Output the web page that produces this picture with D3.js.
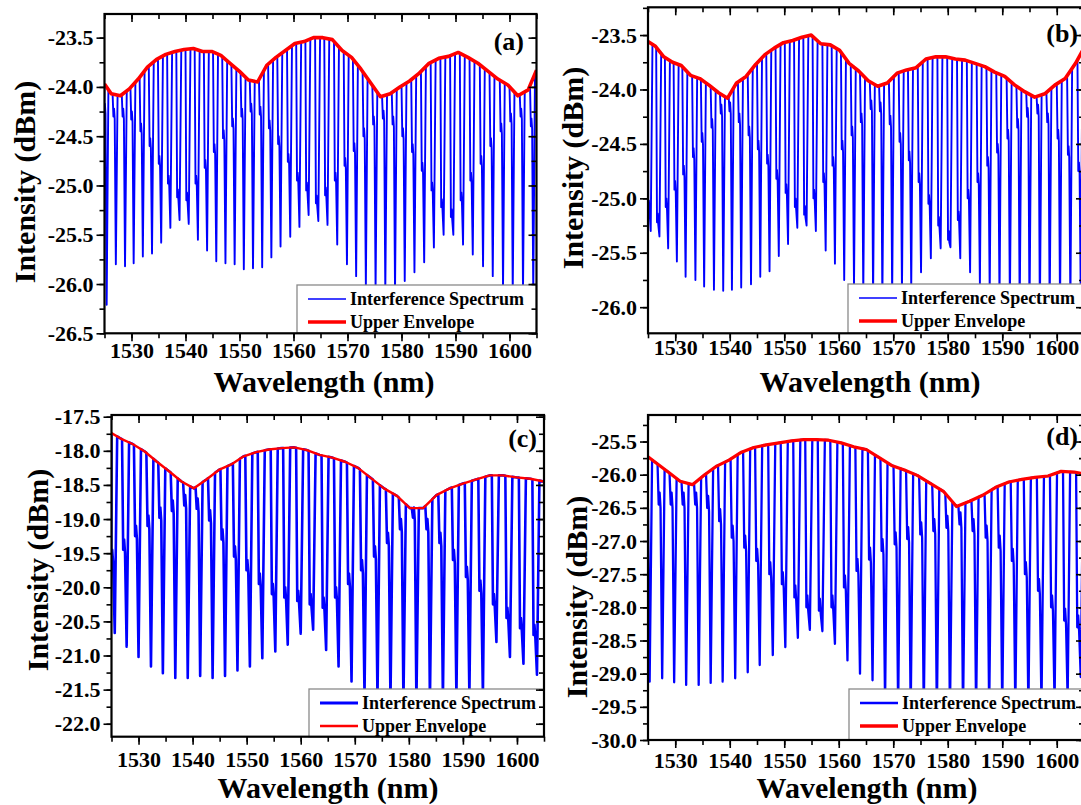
<!DOCTYPE html>
<html>
<head>
<meta charset="utf-8">
<script src="https://cdn.jsdelivr.net/npm/d3@7"></script>
<style>
  body { margin: 0; background: #fff; }
  svg { display: block; }
  text { font-family: "Liberation Serif", "Times New Roman", serif; font-weight: bold; fill: #000; }
</style>
</head>
<body>
<svg id="fig" width="1081" height="805"></svg>
<script>
// wavelength axis, shared by all four panels
const xDomain = [1525, 1605];
const xTicks = [1530, 1540, 1550, 1560, 1570, 1580, 1590, 1600];

// (a) fringe dips, the shoulder on each dip, and the peak level between dips
const dipWlA = [1525.4, 1527.1, 1528.8, 1530.4, 1532.1, 1533.8, 1535.5, 1537.2, 1538.9, 1540.6, 1542.3, 1544.0, 1545.7, 1547.4, 1549.1, 1550.8, 1552.5, 1554.2, 1555.9, 1557.6, 1559.4, 1561.1, 1562.8, 1564.6, 1566.3, 1568.1, 1569.9, 1571.6, 1573.4, 1575.2, 1577.0, 1578.8, 1580.6, 1582.4, 1584.2, 1586.0, 1587.8, 1589.6, 1591.4, 1593.2, 1595.1, 1596.9, 1598.8, 1600.6, 1602.5, 1604.4];
const dipA = [-26.21, -25.80, -25.82, -25.79, -25.72, -25.69, -25.58, -25.43, -25.35, -25.39, -25.55, -25.66, -25.77, -25.79, -25.80, -25.85, -25.84, -25.83, -25.73, -25.62, -25.52, -25.42, -25.30, -25.36, -25.40, -25.60, -25.80, -25.92, -26.02, -26.05, -26.08, -26.08, -25.97, -25.88, -25.78, -25.63, -25.50, -25.50, -25.60, -25.70, -25.82, -25.92, -26.05, -26.08, -26.08, -26.10];
const shoulderA = [-24.25, -24.30, -24.30, -24.33, -24.45, -24.60, -24.78, -24.98, -25.12, -25.15, -24.98, -24.82, -24.66, -24.52, -24.40, -24.30, -24.25, -24.28, -24.42, -24.58, -24.76, -24.95, -25.05, -25.18, -25.10, -24.95, -24.80, -24.65, -24.50, -24.38, -24.32, -24.38, -24.50, -24.66, -24.85, -25.05, -25.22, -25.32, -25.15, -24.95, -24.78, -24.60, -24.45, -24.35, -24.30, -24.40];
const topA = [-23.97, -24.07, -24.09, -24.02, -23.92, -23.80, -23.72, -23.67, -23.64, -23.62, -23.61, -23.64, -23.64, -23.68, -23.76, -23.84, -23.93, -23.95, -23.78, -23.70, -23.63, -23.56, -23.54, -23.50, -23.50, -23.52, -23.63, -23.70, -23.82, -23.96, -24.10, -24.07, -24.00, -23.94, -23.86, -23.76, -23.71, -23.69, -23.65, -23.70, -23.76, -23.84, -23.92, -23.98, -24.09, -24.03, -23.83];
const yTicksA = [-26.5, -26.0, -25.5, -25.0, -24.5, -24.0, -23.5];

// (b)
const dipWlB = [1525.5, 1527.1, 1528.7, 1530.3, 1531.9, 1533.7, 1535.3, 1537.1, 1538.8, 1540.4, 1542.1, 1543.9, 1545.6, 1547.3, 1549.0, 1550.7, 1552.4, 1554.1, 1555.8, 1557.6, 1559.3, 1561.0, 1562.8, 1564.5, 1566.3, 1568.0, 1569.8, 1571.6, 1573.3, 1575.1, 1576.9, 1578.7, 1580.5, 1582.3, 1584.1, 1585.9, 1587.7, 1589.5, 1591.4, 1593.2, 1595.0, 1596.9, 1598.7, 1600.6, 1602.5, 1604.4];
const dipB = [-25.30, -25.35, -25.46, -25.58, -25.72, -25.75, -25.81, -25.84, -25.85, -25.84, -25.82, -25.79, -25.72, -25.67, -25.53, -25.42, -25.27, -25.25, -25.30, -25.48, -25.60, -25.75, -25.82, -25.88, -25.92, -25.95, -25.90, -25.86, -25.82, -25.68, -25.55, -25.46, -25.45, -25.55, -25.68, -25.80, -25.88, -25.95, -26.00, -26.05, -26.08, -26.08, -26.05, -26.02, -25.98, -25.90];
const shoulderB = [-25.10, -25.22, -25.08, -24.92, -24.78, -24.62, -24.48, -24.35, -24.22, -24.20, -24.30, -24.42, -24.55, -24.68, -24.82, -24.95, -25.08, -25.15, -25.00, -24.85, -24.70, -24.55, -24.42, -24.30, -24.18, -24.20, -24.32, -24.48, -24.65, -24.85, -25.05, -25.25, -25.38, -25.20, -25.00, -24.85, -24.70, -24.58, -24.45, -24.35, -24.25, -24.22, -24.30, -24.45, -24.60, -24.75];
const topB = [-23.56, -23.60, -23.70, -23.75, -23.78, -23.87, -23.90, -23.96, -24.03, -24.08, -23.94, -23.88, -23.77, -23.68, -23.62, -23.57, -23.55, -23.52, -23.50, -23.58, -23.59, -23.64, -23.76, -23.83, -23.92, -23.97, -23.94, -23.85, -23.82, -23.80, -23.72, -23.70, -23.70, -23.72, -23.73, -23.76, -23.79, -23.84, -23.88, -23.96, -24.02, -24.07, -24.04, -23.96, -23.90, -23.76, -23.62];
const yTicksB = [-26.0, -25.5, -25.0, -24.5, -24.0, -23.5];

// (c)
const dipWlC = [1525.6, 1527.8, 1530.0, 1532.3, 1534.5, 1536.8, 1539.1, 1541.4, 1543.7, 1546.0, 1548.3, 1550.6, 1552.9, 1555.3, 1557.6, 1560.0, 1562.3, 1564.7, 1567.0, 1569.4, 1571.8, 1574.2, 1576.6, 1579.0, 1581.4, 1583.9, 1586.3, 1588.8, 1591.2, 1593.7, 1596.2, 1598.7, 1601.2, 1603.7];
const dipC = [-20.67, -20.87, -21.02, -21.16, -21.26, -21.33, -21.33, -21.30, -21.33, -21.30, -21.22, -21.16, -21.04, -20.94, -20.84, -20.68, -20.62, -20.92, -21.16, -21.38, -21.60, -21.65, -21.68, -21.70, -21.70, -21.68, -21.65, -21.62, -21.60, -21.58, -20.80, -21.02, -21.12, -21.28];
const shoulderC = [-19.60, -19.45, -19.25, -19.10, -18.98, -18.88, -18.80, -18.85, -19.02, -19.30, -19.55, -19.75, -19.95, -20.10, -20.15, -20.20, -20.25, -20.30, -20.15, -19.95, -19.75, -19.55, -19.35, -19.15, -18.98, -19.15, -19.35, -19.60, -19.85, -20.05, -20.25, -20.45, -20.60, -20.70];
const topC = [-17.74, -17.82, -17.90, -18.01, -18.16, -18.30, -18.45, -18.55, -18.42, -18.28, -18.20, -18.08, -18.02, -17.98, -17.96, -17.95, -17.99, -18.06, -18.10, -18.16, -18.25, -18.40, -18.55, -18.66, -18.84, -18.84, -18.65, -18.55, -18.48, -18.42, -18.36, -18.36, -18.39, -18.41, -18.45];
const yTicksC = [-22.0, -21.5, -21.0, -20.5, -20.0, -19.5, -19.0, -18.5, -18.0, -17.5];

// (d)
const dipWlD = [1525.3, 1527.6, 1529.8, 1532.0, 1534.3, 1536.5, 1538.7, 1541.0, 1543.3, 1545.5, 1547.9, 1550.2, 1552.5, 1554.7, 1557.0, 1559.3, 1561.6, 1563.9, 1566.2, 1568.5, 1570.9, 1573.2, 1575.6, 1578.0, 1580.4, 1582.8, 1585.2, 1587.6, 1590.0, 1592.4, 1594.8, 1597.2, 1599.6, 1602.0, 1604.4];
const dipD = [-29.12, -29.07, -29.13, -29.17, -29.17, -29.14, -29.12, -29.07, -28.98, -28.87, -28.72, -28.60, -28.46, -28.34, -28.36, -28.55, -28.80, -29.00, -29.10, -29.45, -29.55, -29.60, -29.62, -29.65, -29.65, -29.62, -29.60, -29.58, -29.55, -29.55, -29.55, -29.50, -29.45, -29.40, -29.05];
const shoulderD = [-26.48, -26.45, -26.45, -26.45, -26.45, -26.50, -26.70, -26.95, -27.10, -27.30, -27.50, -27.65, -27.85, -28.00, -28.05, -28.00, -27.70, -27.45, -27.28, -27.15, -27.05, -26.97, -26.90, -26.85, -26.80, -26.75, -26.85, -26.95, -27.10, -27.30, -27.50, -27.75, -28.00, -28.20, -28.30];
const topD = [-25.73, -25.82, -25.96, -26.10, -26.15, -26.00, -25.87, -25.78, -25.66, -25.59, -25.55, -25.52, -25.49, -25.47, -25.47, -25.48, -25.52, -25.58, -25.62, -25.74, -25.86, -25.93, -26.01, -26.13, -26.25, -26.48, -26.40, -26.31, -26.19, -26.11, -26.07, -26.04, -26.02, -25.95, -25.96, -25.99];
const yTicksD = [-30.0, -29.5, -29.0, -28.5, -28.0, -27.5, -27.0, -26.5, -26.0, -25.5];

const svg = d3.select('#fig');

function drawPanel(p) {
  const x = d3.scaleLinear().domain(xDomain).range([p.left, p.right]);
  const y = d3.scaleLinear().domain(p.yDomain).range([p.bottom, p.top]);
  const g = svg.append('g');

  g.append('clipPath').attr('id', 'clip-' + p.id)
    .append('rect')
      .attr('x', p.left).attr('y', p.top)
      .attr('width', p.right - p.left).attr('height', p.bottom - p.top);

  // peak levels sit half way between neighbouring dips
  const n = p.dipWl.length;
  const mids = [xDomain[0]];
  for (let i = 1; i < n; i++) mids.push((p.dipWl[i - 1] + p.dipWl[i]) / 2);
  mids.push(xDomain[1]);
  const env = d3.scaleLinear().domain(mids).range(p.tops);

  const pts = [];
  for (let i = 0; i < n; i++) {
    const d = p.dipWl[i], s = p.shoulders[i];
    pts.push([mids[i], p.tops[i]]);
    const a = Math.max(d - p.vL, mids[i]);
    pts.push([a, env(a)]);
    pts.push([d - p.vL * 0.75, s]);
    pts.push([d - p.vL * 0.55, s + p.bump]);
    pts.push([d - p.vL * 0.35, s - p.bump * 0.3]);
    pts.push([d, p.dips[i]]);
    const b = d + p.vR;
    pts.push([b, env(b)]);
  }
  pts.push([mids[n], p.tops[n]]);

  const line = d3.line().x(d => x(d[0])).y(d => y(d[1]));

  g.append('path')
    .datum(pts)
    .attr('clip-path', 'url(#clip-' + p.id + ')')
    .attr('fill', 'none')
    .attr('stroke', '#0000ff')
    .attr('stroke-width', p.blueW)
    .attr('stroke-linejoin', 'round')
    .attr('d', line);

  g.append('path')
    .datum(mids.map((m, i) => [m, p.tops[i]]))
    .attr('clip-path', 'url(#clip-' + p.id + ')')
    .attr('fill', 'none')
    .attr('stroke', '#ff0000')
    .attr('stroke-width', p.redW)
    .attr('stroke-linejoin', 'round')
    .attr('d', line);

  // legend box in the bottom right corner
  g.append('rect')
    .attr('x', p.legX).attr('y', p.legY)
    .attr('width', p.right - p.legX).attr('height', p.bottom - p.legY)
    .attr('fill', '#fff').attr('stroke', '#8a8a8a').attr('stroke-width', 1.3);
  const legItems = [
    { label: 'Interference Spectrum', color: '#0000ff', w: p.legBlueW, y: p.legY + 14 },
    { label: 'Upper Envelope', color: '#ff0000', w: p.legRedW, y: p.legY + 37 }
  ];
  legItems.forEach(it => {
    g.append('line')
      .attr('x1', p.legX + 11).attr('x2', p.legX + 49)
      .attr('y1', it.y).attr('y2', it.y)
      .attr('stroke', it.color).attr('stroke-width', it.w);
    g.append('text')
      .attr('x', p.legX + 53).attr('y', it.y + 6)
      .style('font-size', '18px')
      .text(it.label);
  });

  // axes: ticks out on left/bottom, mirrored inwards on top/right
  const xMinor = d3.range(xDomain[0], xDomain[1] + 0.1, 5);
  const yStep = p.yTicks[1] - p.yTicks[0];
  const yMinor = d3.range(p.yTicks[0] - yStep / 2, p.yDomain[1] + 0.001, yStep / 2)
    .filter(v => v >= p.yDomain[0] - 0.001);

  const axes = [
    [d3.axisBottom(x).tickValues(xMinor).tickSize(5).tickFormat(''), 0, p.bottom],
    [d3.axisBottom(x).tickValues(xTicks).tickSize(8).tickFormat(d3.format('d')), 0, p.bottom, 'x'],
    [d3.axisBottom(x).tickValues(xMinor).tickSize(5).tickFormat(''), 0, p.top],
    [d3.axisBottom(x).tickValues(xTicks).tickSize(8).tickFormat(''), 0, p.top],
    [d3.axisLeft(y).tickValues(yMinor).tickSize(5).tickFormat(''), p.left, 0],
    [d3.axisLeft(y).tickValues(p.yTicks).tickSize(8).tickPadding(3).tickFormat(v => v.toFixed(1)), p.left, 0, 'y'],
    [d3.axisLeft(y).tickValues(yMinor).tickSize(5).tickFormat(''), p.right, 0],
    [d3.axisLeft(y).tickValues(p.yTicks).tickSize(8).tickFormat(''), p.right, 0]
  ];
  axes.forEach(([ax, tx, ty, kind]) => {
    const a = g.append('g').attr('transform', 'translate(' + tx + ',' + ty + ')').call(ax);
    a.select('.domain').remove();
    a.selectAll('line').attr('stroke', '#000').attr('stroke-width', 1.6);
    a.selectAll('text').style('font-size', '22px').attr('fill', '#000');
    if (kind === 'x') a.selectAll('text').attr('y', p.xLabOff).attr('dy', 0);
  });

  g.append('rect')
    .attr('x', p.left).attr('y', p.top)
    .attr('width', p.right - p.left).attr('height', p.bottom - p.top)
    .attr('fill', 'none').attr('stroke', '#000').attr('stroke-width', 2.2);

  g.append('text')
    .attr('transform', 'translate(' + p.yTitle[0] + ',' + p.yTitle[1] + ') rotate(-90)')
    .attr('text-anchor', 'middle')
    .attr('dy', '0.35em')
    .style('font-size', '30px')
    .text('Intensity (dBm)');

  g.append('text')
    .attr('x', p.xTitle[0]).attr('y', p.xTitle[1])
    .attr('text-anchor', 'middle')
    .style('font-size', '30px')
    .text('Wavelength (nm)');

  g.append('text')
    .attr('x', p.tag[0]).attr('y', p.tag[1])
    .attr('text-anchor', 'end')
    .style('font-size', '26px')
    .text(p.label);
}

drawPanel({
  id: 'a', label: '(a)',
  left: 104.5, right: 536.5, top: 14, bottom: 333.3, yDomain: [-26.5, -23.26],
  dipWl: dipWlA, dips: dipA, shoulders: shoulderA, tops: topA, yTicks: yTicksA,
  vL: 0.6, vR: 0.32, bump: 0.08, blueW: 1.9, redW: 3.6,
  legX: 297, legY: 285, legBlueW: 1.6, legRedW: 3.6, xLabOff: 25,
  yTitle: [24, 182], xTitle: [324, 392], tag: [524, 50]
});

drawPanel({
  id: 'b', label: '(b)',
  left: 648, right: 1084, top: 7.3, bottom: 333.3, yDomain: [-26.24, -23.245],
  dipWl: dipWlB, dips: dipB, shoulders: shoulderB, tops: topB, yTicks: yTicksB,
  vL: 0.6, vR: 0.32, bump: 0.08, blueW: 1.9, redW: 3.6,
  legX: 848, legY: 284, legBlueW: 1.6, legRedW: 3.6, xLabOff: 22,
  yTitle: [572, 168], xTitle: [870, 392], tag: [1078, 42]
});

drawPanel({
  id: 'c', label: '(c)',
  left: 111.5, right: 544, top: 415, bottom: 736.7, yDomain: [-22.19, -17.475],
  dipWl: dipWlC, dips: dipC, shoulders: shoulderC, tops: topC, yTicks: yTicksC,
  vL: 0.85, vR: 0.45, bump: 0.15, blueW: 2.6, redW: 2.4,
  legX: 309, legY: 689, legBlueW: 3, legRedW: 2.4, xLabOff: 30,
  yTitle: [37, 570], xTitle: [328, 798], tag: [537, 447]
});

drawPanel({
  id: 'd', label: '(d)',
  left: 648, right: 1084, top: 415, bottom: 740, yDomain: [-30.0, -25.1],
  dipWl: dipWlD, dips: dipD, shoulders: shoulderD, tops: topD, yTicks: yTicksD,
  vL: 0.85, vR: 0.45, bump: 0.18, blueW: 2.3, redW: 3.2,
  legX: 849, legY: 689, legBlueW: 2.6, legRedW: 3.4, xLabOff: 28,
  yTitle: [576, 597], xTitle: [867, 798], tag: [1078, 445]
});
</script>
</body>
</html>
